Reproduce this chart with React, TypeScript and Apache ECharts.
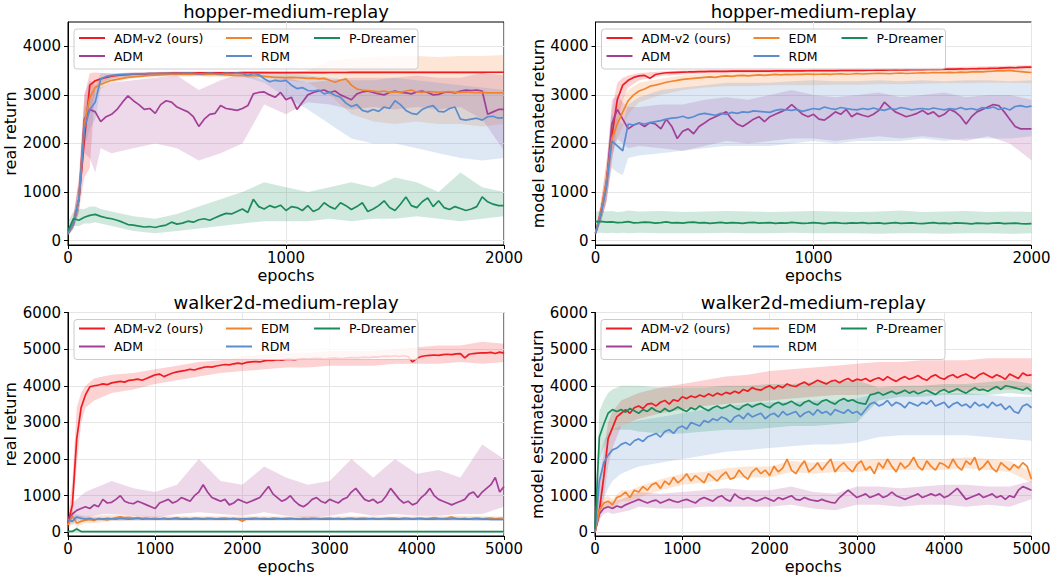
import React, { useEffect, useRef } from "react";
import * as echarts from "echarts";

const FONT = '"DejaVu Sans", "Liberation Sans", sans-serif';
const SERIES_NAMES = ["ADM-v2 (ours)", "ADM", "EDM", "RDM", "P-Dreamer"];
const SERIES_COLORS = ["#ee1d23", "#a33f96", "#f3842e", "#5a8dcf", "#1a8b59"];
const PANEL_TITLES = ["hopper-medium-replay", "hopper-medium-replay", "walker2d-medium-replay", "walker2d-medium-replay"];
const Y_NAMES = ["real return", "model estimated return", "real return", "model estimated return"];
const X_NAME = "epochs";
const HOPPER_Y_TICKS = [0, 1000, 2000, 3000, 4000];
const WALKER_Y_TICKS = [0, 1000, 2000, 3000, 4000, 5000, 6000];
const HOPPER_X_MAX = 2000;
const WALKER_X_MAX = 5000;
const HOPPER_STEP = 25;
const WALKER_STEP = 50;
const HOPPER_BAND_X = [0, 25, 50, 75, 100, 125, 150, 200, 300, 400, 500, 600, 700, 800, 900, 1000, 1100, 1200, 1300, 1400, 1500, 1600, 1700, 1800, 1900, 2000];
const WALKER_BAND_X = [0, 50, 100, 150, 200, 300, 400, 500, 750, 1000, 1250, 1500, 1750, 2000, 2250, 2500, 2750, 3000, 3250, 3500, 3750, 4000, 4250, 4500, 4750, 5000];

// ---------- hopper real return (epochs 0..2000 step 25) ----------
const hopperReal_ADMv2 = [
  150, 350, 850, 2070, 3200, 3290, 3330, 3360, 3385, 3400,
  3410, 3418, 3425, 3430, 3434, 3438, 3440, 3442, 3444, 3446,
  3447, 3448, 3450, 3450, 3451, 3452, 3452, 3453, 3453, 3454,
  3455, 3455, 3456, 3456, 3456, 3457, 3457, 3457, 3458, 3458,
  3458, 3459, 3459, 3459, 3460, 3460, 3460, 3460, 3461, 3461,
  3461, 3461, 3462, 3462, 3462, 3462, 3462, 3463, 3463, 3463,
  3463, 3463, 3463, 3464, 3464, 3464, 3464, 3464, 3464, 3465,
  3465, 3465, 3465, 3465, 3465, 3465, 3465, 3466, 3466, 3466,
  3466];
const hopperReal_ADM = [
  150, 350, 850, 2500, 2700, 2650, 2450, 2550, 2600, 2700,
  2850, 2980, 2880, 2800, 2700, 2720, 2620, 2800, 2880, 2850,
  2750, 2700, 2650, 2550, 2350, 2500, 2600, 2620, 2780, 2720,
  2700, 2680, 2720, 2780, 3020, 3050, 3060, 3000, 2950, 3050,
  2900, 2950, 2700, 2850, 3000, 3050, 3080, 3100, 3050, 3080,
  3000, 2950, 2900, 3020, 3060, 3080, 3050, 3020, 3000, 3050,
  3080, 3050, 3040, 3020, 3060, 3080, 3050, 3000, 3010, 3050,
  3060, 3040, 3080, 3100, 3090, 3100, 3080, 2600, 2650, 2700,
  2700];
const hopperReal_EDM = [
  150, 350, 850, 2400, 2950, 3150, 3220, 3260, 3300, 3320,
  3340, 3360, 3370, 3380, 3390, 3400, 3405, 3410, 3415, 3420,
  3420, 3420, 3425, 3420, 3420, 3415, 3420, 3420, 3415, 3410,
  3405, 3400, 3400, 3395, 3395, 3390, 3380, 3370, 3360, 3360,
  3355, 3360, 3355, 3350, 3340, 3345, 3330, 3340, 3300, 3260,
  3300, 3330, 3200, 3120, 3100, 3090, 3080, 3060, 3080, 3050,
  3060, 3050, 3080, 3100, 3060, 3050, 3070, 3060, 3050, 3060,
  3070, 3050, 3050, 3060, 3050, 3045, 3050, 3040, 3040, 3040,
  3040];
const hopperReal_RDM = [
  150, 350, 850, 2300, 2700, 2850, 3330, 3380, 3400, 3410,
  3420, 3425, 3430, 3430, 3435, 3440, 3440, 3440, 3445, 3440,
  3440, 3445, 3450, 3440, 3430, 3440, 3450, 3440, 3430, 3450,
  3440, 3450, 3440, 3400, 3440, 3420, 3330, 3270, 3300, 3280,
  3300, 3200, 3130, 3150, 3090, 3080, 3100, 3020, 3050, 2990,
  2950, 2830, 2760, 2800, 2680, 2650, 2700, 2660, 2750, 2720,
  2880, 2800, 2680, 2620, 2600, 2700, 2750, 2780, 2660, 2650,
  2720, 2750, 2500, 2480, 2500, 2520, 2480, 2550, 2560, 2520,
  2530];
const hopperReal_PDreamer = [
  200, 450, 420, 480, 520, 540, 500, 470, 450, 420,
  380, 330, 320, 300, 280, 290, 270, 300, 320, 380,
  340, 360, 400, 380, 430, 450, 420, 470, 520, 560,
  550, 600, 650, 580, 850, 700, 650, 720, 680, 730,
  620, 700, 680, 620, 720, 600, 650, 780, 700, 650,
  780, 720, 640, 700, 780, 600, 650, 720, 820, 680,
  620, 750, 900, 720, 680, 800, 880, 700, 820, 680,
  640, 700, 660, 620, 650, 700, 900, 800, 750, 720,
  720];

// bands (at HOPPER_BAND_X)
const hopperReal_ADMv2_lo = [100, 250, 600, 1300, 1500, 3150, 3250, 3330, 3390, 3410, 3420, 3425, 3430, 3430, 3435, 3435, 3440, 3440, 3440, 3440, 3445, 3445, 3445, 3445, 3445, 3445];
const hopperReal_ADMv2_hi = [200, 500, 1300, 3000, 3450, 3460, 3450, 3440, 3460, 3470, 3475, 3475, 3478, 3478, 3480, 3480, 3482, 3482, 3484, 3484, 3485, 3486, 3486, 3487, 3487, 3488];
const hopperReal_ADM_lo = [100, 250, 600, 1800, 1700, 1400, 1900, 1800, 1900, 2000, 1900, 1650, 1800, 2000, 2800, 2600, 2850, 2800, 2700, 2750, 2700, 2750, 2700, 2750, 2500, 1850];
const hopperReal_ADM_hi = [200, 500, 1200, 3000, 3300, 3200, 3150, 3250, 3300, 3350, 3400, 3100, 3300, 3450, 3300, 3350, 3250, 3300, 3350, 3350, 3350, 3400, 3350, 3350, 3450, 3400];
const hopperReal_EDM_lo = [100, 250, 600, 2000, 2700, 3000, 3120, 3250, 3340, 3370, 3380, 3380, 3370, 3360, 3340, 3300, 3250, 3000, 2600, 2450, 2400, 2450, 2400, 2400, 2350, 2400];
const hopperReal_EDM_hi = [200, 500, 1200, 2800, 3150, 3300, 3330, 3360, 3410, 3440, 3460, 3460, 3460, 3450, 3460, 3450, 3500, 3700, 3750, 3780, 3800, 3800, 3780, 3800, 3800, 3820];
const hopperReal_RDM_lo = [100, 250, 600, 1900, 2300, 2500, 3150, 3330, 3390, 3410, 3420, 3420, 3410, 3380, 3250, 2950, 2700, 2400, 2100, 2000, 2000, 1900, 1800, 1700, 1650, 1700];
const hopperReal_RDM_hi = [200, 500, 1200, 2700, 3000, 3150, 3450, 3440, 3460, 3470, 3480, 3480, 3480, 3480, 3480, 3450, 3400, 3350, 3300, 3300, 3350, 3300, 3250, 3200, 3150, 3100];
const hopperReal_PDreamer_lo = [100, 300, 300, 350, 350, 380, 350, 300, 200, 150, 200, 250, 300, 350, 400, 400, 400, 450, 400, 450, 450, 500, 450, 400, 450, 500];
const hopperReal_PDreamer_hi = [400, 600, 650, 650, 700, 700, 650, 600, 500, 450, 550, 700, 850, 1000, 1200, 1100, 1000, 1100, 1200, 1100, 1300, 1200, 1000, 1400, 1100, 1000];

// ---------- hopper model estimated return ----------
const hopperModel_ADMv2 = [
  150, 600, 1200, 2150, 2900, 3200, 3300, 3360, 3390, 3400,
  3340, 3420, 3440, 3455, 3460, 3465, 3470, 3472, 3475, 3478,
  3480, 3485, 3484, 3486, 3485, 3488, 3487, 3489, 3488, 3490,
  3490, 3491, 3490, 3492, 3493, 3492, 3495, 3494, 3496, 3497,
  3500, 3498, 3500, 3502, 3500, 3503, 3505, 3503, 3506, 3505,
  3507, 3508, 3510, 3508, 3512, 3514, 3512, 3516, 3518, 3517,
  3520, 3522, 3524, 3526, 3530, 3528, 3532, 3535, 3533, 3538,
  3540, 3543, 3545, 3548, 3550, 3555, 3560, 3558, 3565, 3570,
  3572];
const hopperModel_ADM = [
  150, 550, 1150, 2400, 2700, 2500, 2300, 2380, 2420, 2350,
  2430, 2400, 2300, 2500, 2350, 2100, 2250, 2300, 2200, 2350,
  2420, 2500, 2550, 2600, 2650, 2500, 2400, 2350, 2420, 2500,
  2550, 2450, 2550, 2600, 2650, 2700, 2800, 2700, 2600, 2550,
  2600, 2500, 2480, 2560, 2650, 2600, 2700, 2550, 2620, 2580,
  2550, 2600, 2680, 2850, 2750, 2650, 2600, 2550, 2580, 2620,
  2680, 2600, 2650, 2550, 2600, 2700, 2650, 2550, 2400, 2550,
  2650, 2700, 2750, 2800, 2780, 2650, 2500, 2350, 2300, 2300,
  2300];
const hopperModel_EDM = [
  150, 600, 1200, 2100, 2400, 2650, 2880, 3000, 3080, 3120,
  3180, 3200, 3230, 3260, 3280, 3300, 3320, 3330, 3340, 3350,
  3360, 3370, 3360, 3380, 3390, 3380, 3395, 3400, 3390, 3400,
  3410, 3400, 3410, 3420, 3410, 3420, 3415, 3425, 3420, 3430,
  3420, 3425, 3430, 3420, 3430, 3435, 3425, 3430, 3440, 3430,
  3435, 3440, 3445, 3440, 3435, 3445, 3450, 3440, 3445, 3450,
  3455, 3450, 3460, 3455, 3460, 3465, 3460, 3470, 3465, 3475,
  3480, 3475, 3485, 3490, 3500, 3495, 3505, 3490, 3480, 3470,
  3460];
const hopperModel_RDM = [
  150, 550, 1100, 2050, 1950, 1850, 2400, 2380, 2420, 2400,
  2430, 2450, 2470, 2500, 2520, 2530, 2560, 2520, 2550, 2600,
  2620, 2600, 2580, 2620, 2600, 2640, 2620, 2650, 2640, 2670,
  2660, 2650, 2640, 2680, 2700, 2690, 2680, 2700, 2660, 2690,
  2720, 2700, 2750, 2720, 2700, 2740, 2720, 2700, 2690, 2720,
  2700, 2730, 2700, 2680, 2720, 2700, 2740, 2720, 2690, 2710,
  2720, 2700, 2730, 2710, 2690, 2720, 2700, 2740, 2700, 2720,
  2690, 2740, 2720, 2750, 2700, 2730, 2690, 2760, 2780, 2750,
  2770];
const hopperModel_PDreamer = [
  390, 395, 380, 385, 370, 375, 390, 365, 370, 380,
  375, 360, 370, 385, 365, 370, 360, 375, 380, 365,
  370, 355, 365, 375, 360, 370, 365, 355, 370, 375,
  360, 365, 370, 355, 365, 360, 375, 365, 355, 360,
  370, 360, 350, 365, 370, 360, 355, 365, 360, 370,
  355, 360, 365, 350, 360, 370, 355, 360, 365, 355,
  350, 360, 370, 355, 360, 350, 365, 360, 355, 345,
  360, 355, 350, 360, 365, 350, 355, 360, 350, 345,
  350];

const hopperModel_ADMv2_lo = [100, 400, 800, 1600, 2400, 2900, 3150, 3300, 3390, 3420, 3440, 3450, 3455, 3460, 3465, 3470, 3470, 3475, 3480, 3485, 3490, 3495, 3500, 3510, 3520, 3530];
const hopperModel_ADMv2_hi = [200, 800, 1600, 2700, 3250, 3350, 3400, 3450, 3480, 3500, 3510, 3515, 3520, 3525, 3530, 3535, 3540, 3545, 3550, 3560, 3565, 3570, 3580, 3590, 3600, 3610];
const hopperModel_ADM_lo = [100, 400, 800, 1700, 2100, 2000, 1900, 1950, 1900, 1850, 1950, 2050, 2000, 2050, 2100, 2100, 2050, 2100, 2150, 2100, 2150, 2100, 2050, 2150, 2000, 1650];
const hopperModel_ADM_hi = [200, 700, 1400, 2900, 3000, 2850, 2750, 2750, 2800, 2800, 2900, 2950, 2900, 3000, 3100, 3000, 2950, 3000, 3050, 2950, 3000, 3050, 2950, 3000, 3000, 2900];
const hopperModel_EDM_lo = [100, 400, 800, 1800, 2100, 2350, 2600, 2850, 3000, 3100, 3150, 3180, 3180, 3200, 3200, 3200, 3210, 3210, 3220, 3220, 3230, 3240, 3240, 3250, 3250, 3240];
const hopperModel_EDM_hi = [200, 800, 1600, 2500, 2750, 2950, 3100, 3250, 3330, 3400, 3430, 3450, 3460, 3460, 3470, 3470, 3480, 3480, 3490, 3490, 3500, 3510, 3520, 3540, 3550, 3540];
const hopperModel_RDM_lo = [100, 400, 800, 1500, 1400, 1350, 1700, 1750, 1800, 1850, 1900, 1950, 1950, 1950, 2000, 2050, 2000, 2050, 2050, 2050, 2100, 2050, 2100, 2100, 2100, 2150];
const hopperModel_RDM_hi = [200, 700, 1400, 2600, 2500, 2400, 2800, 2950, 3100, 3150, 3200, 3250, 3250, 3250, 3280, 3300, 3280, 3280, 3300, 3280, 3300, 3280, 3300, 3300, 3280, 3300];
const hopperModel_PDreamer_lo = [150, 160, 150, 160, 150, 160, 150, 160, 150, 150, 150, 160, 150, 150, 160, 150, 150, 150, 140, 150, 150, 140, 150, 150, 140, 150];
const hopperModel_PDreamer_hi = [600, 620, 600, 610, 590, 600, 620, 600, 610, 590, 600, 610, 600, 590, 600, 610, 600, 590, 600, 620, 590, 600, 610, 590, 600, 590];

// ---------- walker2d real return (epochs 0..5000 step 50) ----------
const walkerReal_ADMv2 = [
  250, 750, 2550, 3400, 3750, 3970, 4000, 4020, 4050, 4030,
  4080, 4100, 4120, 4100, 4150, 4160, 4180, 4150, 4200, 4250,
  4300, 4320, 4250, 4300, 4350, 4380, 4400, 4420, 4450, 4430,
  4470, 4500, 4520, 4510, 4540, 4560, 4580, 4570, 4600, 4620,
  4600, 4640, 4650, 4660, 4650, 4680, 4700, 4690, 4710, 4700,
  4720, 4720, 4710, 4730, 4740, 4730, 4740, 4750, 4740, 4730,
  4750, 4760, 4750, 4740, 4760, 4770, 4760, 4770, 4780, 4770,
  4790, 4780, 4800, 4810, 4800, 4820, 4800, 4820, 4800, 4650,
  4750, 4800, 4820, 4830, 4840, 4830, 4850, 4860, 4850, 4870,
  4880, 4760, 4860, 4880, 4890, 4900, 4900, 4910, 4880, 4920,
  4890];
const walkerReal_ADM = [
  300, 500, 600, 650, 700, 650, 750, 700, 900, 800,
  820, 900, 1000, 850, 800, 780, 850, 800, 750, 700,
  650, 800, 850, 900, 800, 850, 950, 900, 850, 1000,
  1100, 1300, 1100, 950, 900, 850, 900, 750, 800, 900,
  850, 800, 850, 900, 950, 1100, 1250, 1050, 950, 850,
  900, 1000, 850, 750, 700, 780, 900, 950, 850, 800,
  900, 850, 800, 900, 950, 1100, 1200, 1050, 900, 850,
  900, 800, 850, 1000, 1200, 1050, 900, 800, 850, 750,
  800, 950, 1050, 1200, 1000, 900, 850, 800, 750, 800,
  850, 900, 1050, 1100, 950, 1100, 1200, 1300, 1500, 1100,
  1250];
const walkerReal_EDM = [
  200, 450, 250, 300, 330, 350, 320, 380, 360, 340,
  370, 400, 420, 400, 410, 390, 400, 380, 390, 370,
  380, 360, 390, 370, 380, 400, 370, 380, 360, 390,
  380, 370, 390, 380, 360, 380, 390, 370, 380, 360,
  300, 370, 380, 390, 370, 380, 360, 390, 380, 370,
  380, 390, 370, 360, 380, 370, 390, 380, 370, 380,
  390, 370, 380, 360, 380, 390, 370, 380, 390, 370,
  380, 360, 370, 380, 390, 380, 370, 390, 380, 370,
  380, 390, 370, 380, 400, 380, 370, 390, 420, 380,
  370, 380, 360, 380, 390, 370, 380, 390, 370, 380,
  380];
const walkerReal_RDM = [
  350, 300, 420, 380, 360, 380, 350, 370, 360, 380,
  370, 360, 380, 370, 360, 370, 380, 360, 370, 365,
  360, 370, 365, 360, 370, 365, 360, 370, 360, 365,
  370, 360, 365, 370, 360, 365, 360, 370, 365, 360,
  365, 370, 360, 365, 370, 360, 365, 360, 370, 365,
  360, 365, 370, 360, 365, 360, 370, 365, 360, 365,
  360, 370, 365, 360, 365, 370, 360, 365, 360, 370,
  365, 360, 365, 370, 360, 365, 360, 370, 365, 360,
  365, 370, 360, 365, 360, 370, 365, 360, 365, 370,
  360, 365, 360, 370, 365, 360, 365, 350, 355, 350,
  350];
const walkerReal_PDreamer = [
  20, 25, 90, 20, 18, 20, 22, 20, 19, 21,
  20, 22, 19, 20, 21, 20, 19, 22, 20, 21,
  20, 19, 21, 20, 22, 20, 19, 21, 20, 20,
  21, 20, 19, 22, 20, 21, 20, 19, 20, 21,
  20, 22, 20, 19, 21, 20, 20, 21, 19, 20,
  22, 20, 21, 19, 20, 21, 20, 22, 20, 19,
  21, 20, 20, 19, 22, 20, 21, 20, 19, 21,
  20, 22, 20, 19, 21, 20, 20, 21, 19, 20,
  22, 20, 21, 19, 20, 21, 20, 22, 20, 19,
  21, 20, 20, 19, 22, 20, 21, 20, 19, 21,
  20];

const walkerReal_ADMv2_lo = [100, 400, 1800, 3000, 3400, 3600, 3700, 3800, 3900, 4050, 4150, 4250, 4350, 4400, 4450, 4500, 4500, 4550, 4550, 4550, 4600, 4600, 4600, 4650, 4600, 4650];
const walkerReal_ADMv2_hi = [400, 1400, 3400, 3800, 4000, 4200, 4250, 4300, 4350, 4450, 4550, 4650, 4700, 4800, 4850, 4900, 4900, 4950, 4950, 4950, 5000, 5050, 5100, 5100, 5200, 5150];
const walkerReal_ADM_lo = [200, 300, 350, 400, 400, 450, 500, 500, 450, 400, 500, 550, 500, 450, 550, 450, 400, 450, 550, 450, 500, 450, 450, 500, 500, 700];
const walkerReal_ADM_hi = [400, 800, 900, 1000, 1100, 1200, 1300, 1400, 1200, 1100, 1300, 2000, 1400, 1300, 1800, 1500, 1300, 1400, 2000, 1500, 2000, 1600, 1700, 1500, 2400, 2000];
const walkerReal_EDM_lo = [100, 250, 150, 200, 250, 250, 280, 300, 320, 320, 320, 320, 320, 320, 320, 330, 320, 330, 320, 330, 320, 330, 320, 330, 320, 330];
const walkerReal_EDM_hi = [350, 600, 450, 450, 450, 450, 480, 480, 460, 440, 440, 440, 440, 440, 440, 430, 440, 430, 440, 430, 440, 430, 440, 450, 440, 430];
const walkerReal_RDM_lo = [250, 200, 300, 300, 300, 310, 310, 320, 320, 320, 320, 320, 320, 320, 320, 320, 320, 320, 320, 320, 320, 320, 320, 320, 310, 310];
const walkerReal_RDM_hi = [450, 400, 500, 450, 420, 420, 410, 410, 410, 410, 410, 410, 410, 410, 410, 410, 410, 410, 410, 410, 410, 410, 410, 410, 400, 400];
const walkerReal_PDreamer_lo = [0, 0, 0, 0, 0, 0, 0, 0, 0, 0, 0, 0, 0, 0, 0, 0, 0, 0, 0, 0, 0, 0, 0, 0, 0, 0];
const walkerReal_PDreamer_hi = [40, 60, 150, 40, 40, 40, 40, 40, 40, 40, 40, 40, 40, 40, 40, 40, 40, 40, 40, 40, 40, 40, 40, 40, 40, 40];

// ---------- walker2d model estimated return ----------
const walkerModel_ADMv2 = [
  0, 600, 1500, 2550, 2850, 3150, 3250, 3350, 3250, 3400,
  3450, 3380, 3500, 3520, 3450, 3550, 3600, 3500, 3620, 3580,
  3700, 3650, 3720, 3680, 3750, 3700, 3780, 3720, 3800, 3750,
  3820, 3780, 3850, 3800, 3900, 3850, 3950, 3900, 3880, 3950,
  4000, 3920, 4000, 3950, 4050, 4000, 3980, 4050, 4100, 4020,
  4080, 4150, 4100, 4050, 4120, 4150, 4080, 4150, 4200, 4120,
  4180, 4150, 4200, 4120, 4180, 4220, 4150, 4250, 4180, 4120,
  4200, 4250, 4180, 4220, 4280, 4200, 4150, 4250, 4300, 4220,
  4180, 4260, 4300, 4220, 4280, 4320, 4250, 4200, 4300, 4350,
  4280, 4220, 4300, 4250, 4180, 4320, 4260, 4200, 4350, 4280,
  4300];
const walkerModel_ADM = [
  0, 500, 650, 700, 650, 720, 680, 750, 800, 850,
  900, 850, 800, 850, 880, 800, 850, 900, 850, 820,
  870, 900, 850, 800, 900, 950, 900, 850, 950, 1000,
  900, 850, 1050, 950, 900, 950, 900, 850, 900, 950,
  900, 850, 950, 900, 950, 1000, 900, 880, 950, 900,
  870, 850, 900, 850, 820, 800, 950, 1050, 1150, 1050,
  950, 1000, 1050, 950, 1000, 1050, 950, 1000, 1100, 1000,
  950, 900, 950, 1000, 1050, 950, 1000, 1050, 1000, 1050,
  950, 1000, 1100, 1200, 1050, 900, 950, 1000, 1050, 950,
  1000, 1050, 950, 1000, 900, 1000, 950, 1150, 1250, 1200,
  1150];
const walkerModel_EDM = [
  0, 600, 800, 850, 750, 950, 1000, 1100, 950, 1150,
  1100, 1250, 1150, 1300, 1350, 1200, 1400, 1300, 1500, 1350,
  1450, 1600, 1400, 1550, 1450, 1350, 1600, 1500, 1400, 1550,
  1650, 1450, 1500, 1700, 1550, 1450, 1650, 1750, 1600, 1700,
  1550, 1800, 1650, 1750, 2000, 1700, 1600, 1800, 1950, 1650,
  1750, 1900, 1700, 1850, 2000, 1650, 1800, 1900, 1750, 1650,
  1850, 1950, 1700, 1800, 1600, 1900, 1750, 2000, 1800, 1650,
  1900, 1750, 1850, 2050, 1800, 1700, 1950, 1800, 1700, 1900,
  1850, 1750, 2000, 1800, 1700, 1950, 1850, 2050, 1700, 1800,
  1950, 1750, 1650, 1900, 1800, 1700, 1850, 1750, 1900, 1800,
  1450];
const walkerModel_RDM = [
  0, 1400, 1900, 2100, 2250, 2300, 2400, 2450, 2380, 2500,
  2550, 2480, 2600, 2650, 2700, 2600, 2750, 2800, 2700, 2850,
  2900, 2820, 3000, 2950, 2900, 3050, 3000, 3100, 3050, 3150,
  3100, 3000, 3150, 3200, 3100, 3250, 3150, 3200, 3250, 3100,
  3200, 3250, 3150, 3300, 3200, 3250, 3300, 3150, 3250, 3300,
  3200, 3350, 3250, 3300, 3200, 3350, 3300, 3250, 3350, 3250,
  3300, 3200, 3350, 3500, 3550, 3450, 3500, 3600, 3450, 3550,
  3500, 3400, 3550, 3500, 3450, 3550, 3500, 3600, 3450, 3500,
  3550, 3400, 3500, 3550, 3450, 3500, 3400, 3550, 3450, 3500,
  3400, 3550, 3450, 3500, 3350, 3450, 3300, 3250, 3450, 3500,
  3400];
const walkerModel_PDreamer = [
  100, 2600, 2950, 3250, 3350, 3300, 3350, 3280, 3380, 3320,
  3250, 3350, 3300, 3400, 3320, 3280, 3380, 3300, 3350, 3420,
  3350, 3300, 3400, 3350, 3450, 3380, 3320, 3400, 3450, 3380,
  3420, 3480, 3400, 3350, 3450, 3500, 3420, 3480, 3520, 3450,
  3400, 3500, 3550, 3480, 3520, 3580, 3500, 3450, 3550, 3600,
  3520, 3480, 3580, 3620, 3550, 3500, 3600, 3650, 3580, 3620,
  3550, 3520, 3500, 3750, 3780, 3820, 3750, 3800, 3850, 3780,
  3820, 3880, 3800, 3850, 3780, 3830, 3880, 3820, 3760, 3850,
  3900, 3820, 3860, 3920, 3850, 3800, 3880, 3950, 3880, 3900,
  3850, 3920, 3980, 3900, 4000, 3980, 3950, 3920, 3880, 3950,
  3850];

const walkerModel_ADMv2_lo = [0, 300, 900, 1800, 2300, 2900, 3000, 3100, 3250, 3350, 3450, 3500, 3550, 3600, 3650, 3700, 3750, 3750, 3800, 3800, 3850, 3850, 3850, 3900, 3900, 3900];
const walkerModel_ADMv2_hi = [100, 1200, 2200, 3000, 3300, 3600, 3700, 3800, 3950, 4050, 4150, 4250, 4300, 4400, 4450, 4500, 4550, 4600, 4650, 4650, 4700, 4700, 4700, 4750, 4750, 4750];
const walkerModel_ADM_lo = [0, 350, 500, 550, 500, 550, 600, 700, 650, 650, 700, 700, 700, 700, 750, 650, 600, 750, 750, 700, 750, 750, 700, 750, 700, 900];
const walkerModel_ADM_hi = [100, 650, 800, 850, 850, 900, 1000, 1100, 1050, 1100, 1150, 1200, 1150, 1150, 1250, 1100, 1050, 1250, 1250, 1200, 1250, 1300, 1300, 1250, 1250, 1400];
const walkerModel_EDM_lo = [0, 450, 650, 700, 650, 850, 850, 950, 1150, 1300, 1350, 1450, 1500, 1500, 1650, 1600, 1650, 1650, 1700, 1700, 1700, 1700, 1750, 1700, 1650, 1350];
const walkerModel_EDM_hi = [100, 750, 950, 1000, 900, 1150, 1150, 1250, 1450, 1600, 1650, 1750, 1800, 1800, 1950, 1900, 1950, 1950, 2000, 2000, 2000, 2000, 2050, 2000, 1950, 1650];
const walkerModel_RDM_lo = [0, 600, 900, 1200, 1400, 1600, 1700, 1800, 1900, 2000, 2100, 2200, 2250, 2300, 2350, 2400, 2400, 2450, 2600, 2650, 2650, 2650, 2650, 2600, 2550, 2500];
const walkerModel_RDM_hi = [100, 2000, 2500, 2700, 2800, 2900, 3000, 3050, 3150, 3250, 3350, 3450, 3500, 3550, 3550, 3600, 3600, 3650, 3800, 3800, 3800, 3800, 3800, 3750, 3700, 3700];
const walkerModel_PDreamer_lo = [0, 2000, 2300, 2600, 2800, 2800, 2800, 2750, 2700, 2700, 2750, 2800, 2800, 2850, 2900, 2900, 2950, 3000, 3600, 3700, 3700, 3750, 3750, 3750, 3800, 3750];
const walkerModel_PDreamer_hi = [500, 3300, 3600, 3800, 3900, 4000, 4000, 4000, 3950, 3950, 3950, 4000, 4000, 4050, 4050, 4100, 4100, 4150, 3950, 4000, 4000, 4050, 4050, 4100, 4150, 4050];

const PANELS = [
  {
    left: 68, top: 22, width: 436, height: 223, titleY: 11.5,
    xMax: HOPPER_X_MAX, yMin: -90, yMax: 4500, yTicks: HOPPER_Y_TICKS, step: HOPPER_STEP, bandX: HOPPER_BAND_X,
    means: [hopperReal_ADMv2, hopperReal_ADM, hopperReal_EDM, hopperReal_RDM, hopperReal_PDreamer],
    lows: [hopperReal_ADMv2_lo, hopperReal_ADM_lo, hopperReal_EDM_lo, hopperReal_RDM_lo, hopperReal_PDreamer_lo],
    highs: [hopperReal_ADMv2_hi, hopperReal_ADM_hi, hopperReal_EDM_hi, hopperReal_RDM_hi, hopperReal_PDreamer_hi],
  },
  {
    left: 595.5, top: 22, width: 436, height: 223, titleY: 11.5,
    xMax: HOPPER_X_MAX, yMin: -90, yMax: 4500, yTicks: HOPPER_Y_TICKS, step: HOPPER_STEP, bandX: HOPPER_BAND_X,
    means: [hopperModel_ADMv2, hopperModel_ADM, hopperModel_EDM, hopperModel_RDM, hopperModel_PDreamer],
    lows: [hopperModel_ADMv2_lo, hopperModel_ADM_lo, hopperModel_EDM_lo, hopperModel_RDM_lo, hopperModel_PDreamer_lo],
    highs: [hopperModel_ADMv2_hi, hopperModel_ADM_hi, hopperModel_EDM_hi, hopperModel_RDM_hi, hopperModel_PDreamer_hi],
  },
  {
    left: 68, top: 312.5, width: 436, height: 223.5, titleY: 302.5,
    xMax: WALKER_X_MAX, yMin: -100, yMax: 6000, yTicks: WALKER_Y_TICKS, step: WALKER_STEP, bandX: WALKER_BAND_X,
    means: [walkerReal_ADMv2, walkerReal_ADM, walkerReal_EDM, walkerReal_RDM, walkerReal_PDreamer],
    lows: [walkerReal_ADMv2_lo, walkerReal_ADM_lo, walkerReal_EDM_lo, walkerReal_RDM_lo, walkerReal_PDreamer_lo],
    highs: [walkerReal_ADMv2_hi, walkerReal_ADM_hi, walkerReal_EDM_hi, walkerReal_RDM_hi, walkerReal_PDreamer_hi],
  },
  {
    left: 595, top: 312.5, width: 436.5, height: 223.5, titleY: 302.5,
    xMax: WALKER_X_MAX, yMin: -100, yMax: 6000, yTicks: WALKER_Y_TICKS, step: WALKER_STEP, bandX: WALKER_BAND_X,
    means: [walkerModel_ADMv2, walkerModel_ADM, walkerModel_EDM, walkerModel_RDM, walkerModel_PDreamer],
    lows: [walkerModel_ADMv2_lo, walkerModel_ADM_lo, walkerModel_EDM_lo, walkerModel_RDM_lo, walkerModel_PDreamer_lo],
    highs: [walkerModel_ADMv2_hi, walkerModel_ADM_hi, walkerModel_EDM_hi, walkerModel_RDM_hi, walkerModel_PDreamer_hi],
  },
];

const LEGEND_COLUMNS = [[0, 1], [2, 3], [4]];
const LEGEND_COL_OFFSETS = [11, 158, 246];

function buildOption() {
  const series: any[] = [];
  PANELS.forEach((p, g) => {
    SERIES_NAMES.forEach((_, i) => {
      const color = SERIES_COLORS[i];
      const n = Math.min(p.bandX.length, p.lows[i].length, p.highs[i].length);
      const rows: number[][] = [];
      for (let k = 0; k < n; k++) rows.push([p.bandX[k], p.lows[i][k], p.highs[i][k]]);
      series.push({
        type: "custom",
        name: `band-${g}-${i}`,
        coordinateSystem: "cartesian2d",
        xAxisIndex: g,
        yAxisIndex: g,
        silent: true,
        z: 1,
        clip: true,
        encode: { x: 0, y: [1, 2] },
        data: rows,
        renderItem: (params: any, api: any) => {
          if (params.dataIndex !== 0) return null;
          const pts: number[][] = [];
          for (let k = 0; k < rows.length; k++) pts.push(api.coord([rows[k][0], rows[k][2]]));
          for (let k = rows.length - 1; k >= 0; k--) pts.push(api.coord([rows[k][0], rows[k][1]]));
          return {
            type: "polygon",
            shape: { points: pts },
            style: { fill: color, opacity: 0.2 },
            silent: true,
          };
        },
      });
    });
    SERIES_NAMES.forEach((name, i) => {
      const color = SERIES_COLORS[i];
      series.push({
        type: "line", name, xAxisIndex: g, yAxisIndex: g,
        data: p.means[i].map((v, k) => [k * p.step, v]),
        symbol: "none", showSymbol: false, z: 2,
        lineStyle: { width: 1.7, color }, itemStyle: { color },
        emphasis: { disabled: true },
      });
    });
  });

  const axisCommon = {
    axisLine: { show: true, onZero: false, lineStyle: { color: "#000", width: 1 } },
    axisTick: { show: true, inside: false, length: 4, lineStyle: { color: "#000", width: 1 } },
    splitLine: { show: true, lineStyle: { color: "#e6e6e6", width: 1 } },
    nameTextStyle: { fontSize: 16, color: "#000", fontFamily: FONT },
  };
  const plain = (v: number) => String(v);

  const graphic: any[] = [];
  PANELS.forEach((p, g) => {
    graphic.push({
      type: "text", x: p.left + p.width / 2, y: p.titleY, z: 10,
      style: { text: PANEL_TITLES[g], fontSize: 18, fontFamily: FONT, fill: "#000", align: "center", verticalAlign: "middle" },
    });
    graphic.push({
      type: "rect", z: 3,
      shape: { x: p.left + 6, y: p.top + 7, width: 344, height: 40, r: 3 },
      style: { fill: "rgba(255,255,255,0.8)", stroke: "#cccccc", lineWidth: 1 },
    });
  });

  const legend: any[] = [];
  PANELS.forEach((p) => {
    LEGEND_COLUMNS.forEach((col, ci) => {
      legend.push({
        orient: "vertical", left: p.left + LEGEND_COL_OFFSETS[ci], top: p.top + 9, padding: 0,
        icon: "rect", itemWidth: 26, itemHeight: 2, itemGap: 4, selectedMode: false, z: 5,
        data: col.map((i) => SERIES_NAMES[i]),
        textStyle: { fontFamily: FONT, fontSize: 12.5, color: "#000", padding: [0, 0, 0, 4], lineHeight: 14 },
      });
    });
  });

  return {
    animation: false,
    backgroundColor: "#ffffff",
    textStyle: { fontFamily: FONT },
    grid: PANELS.map((p) => ({
      left: p.left, top: p.top, width: p.width, height: p.height,
      show: true, borderColor: "#000", borderWidth: 1, backgroundColor: "transparent",
    })),
    xAxis: PANELS.map((p, g) => ({
      ...axisCommon, type: "value", gridIndex: g, min: 0, max: p.xMax, interval: 1000,
      name: X_NAME, nameLocation: "middle", nameGap: 22,
      axisLabel: { fontSize: 15, color: "#000", fontFamily: FONT, margin: 5, showMinLabel: true, showMaxLabel: true, formatter: plain },
    })),
    yAxis: PANELS.map((p, g) => ({
      ...axisCommon, type: "value", gridIndex: g, min: p.yMin, max: p.yMax,
      name: Y_NAMES[g], nameLocation: "middle", nameGap: 41,
      axisTick: { ...axisCommon.axisTick, customValues: p.yTicks },
      axisLabel: { fontSize: 15, color: "#000", fontFamily: FONT, margin: 7, customValues: p.yTicks, formatter: plain },
    })),
    legend,
    graphic,
    series,
  };
}

export default function App() {
  const ref = useRef<HTMLDivElement>(null);
  useEffect(() => {
    if (!ref.current) return;
    const chart = echarts.init(ref.current, undefined, { renderer: "svg" });
    chart.setOption(buildOption() as any);
    return () => chart.dispose();
  }, []);
  return (
    <div
      ref={ref}
      style={{ position: "absolute", left: 0, top: 0, width: 1055, height: 582, background: "#fff" }}
    />
  );
}
